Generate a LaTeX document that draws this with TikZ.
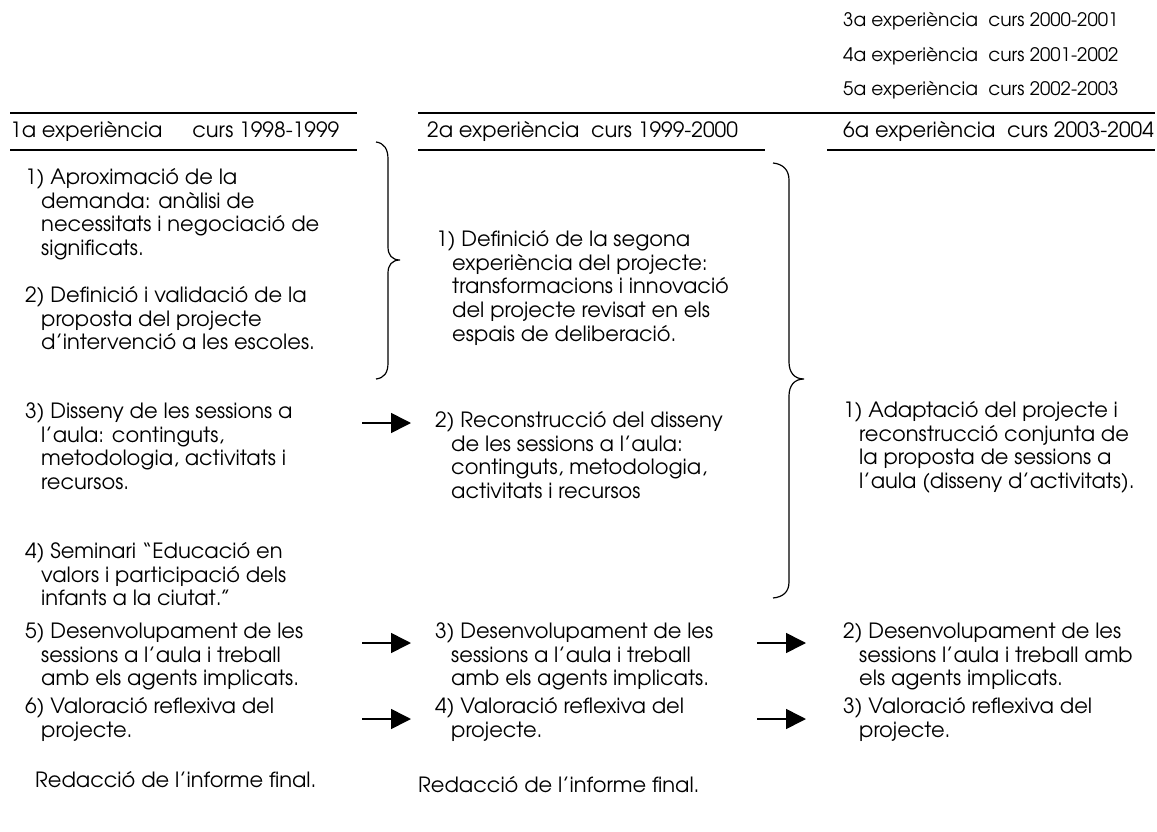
\documentclass[tikz,border=0pt]{standalone}
\usepackage{fontspec}
\setmainfont{TeX Gyre Adventor}
\usetikzlibrary{arrows.meta}
\newcommand\cind{\hspace*{16pt}}
\tikzset{
  txt/.style={anchor=north west, inner sep=0pt, align=left, font=\fontsize{21}{23.6}\selectfont},
  small/.style={anchor=north west, inner sep=0pt, font=\fontsize{18.6}{21}\selectfont},
  rule/.style={line width=1.6pt},
  arr/.style={line width=1.6pt, -{Triangle[length=20pt,width=20pt]}},
  brace/.style={line width=1.2pt}
}
\begin{document}
\begin{tikzpicture}[x=1pt,y=-1pt]
\useasboundingbox (0,0) rectangle (1157,832);
% top right
\node[small] (e3) at (843,12) {\strut 3a experiència\ \ curs 2000-2001};
\node[small] (e4) at (843,47) {\strut 4a experiència\ \ curs 2001-2002};
\node[small] (e5) at (843,81) {\strut 5a experiència\ \ curs 2002-2003};
% rules
\draw[rule] (10,113) -- (357,113);
\draw[rule] (10,150) -- (357,150);
\draw[rule] (418,113) -- (1155,113);
\draw[rule] (418,150) -- (765,150);
\draw[rule] (827,150) -- (1155,150);
% headers
\node[txt] (h1) at (10,121) {\strut 1a experiència\hspace{30pt}curs 1998-1999};
\node[txt] (h2) at (427,121) {\strut 2a experiència\ \ curs 1999-2000};
\node[txt] (h6) at (843,121) {\strut 6a experiència\ \ curs 2003-2004};
% column 1
\node[txt] (a1) at (25,168) {\strut 1) Aproximació de la\\\cind demanda: anàlisi de\\\cind necessitats i negociació de\\\cind significats.};
\node[txt] (a2) at (25,286) {\strut 2) Definició i validació de la\\\cind proposta del projecte\\\cind d’intervenció a les escoles.};
\node[txt] (a3) at (25,402) {\strut 3) Disseny de les sessions a\\\cind l’aula: continguts,\\\cind metodologia, activitats i\\\cind recursos.};
\node[txt] (a4) at (25,542) {\strut 4) Seminari “Educació en\\\cind valors i participació dels\\\cind infants a la ciutat.”};
\node[txt] (a5) at (25,622) {\strut 5) Desenvolupament de les\\\cind sessions a l’aula i treball\\\cind amb els agents implicats.};
\node[txt] (a6) at (25,697) {\strut 6) Valoració reflexiva del\\\cind projecte.};
\node[txt] (a7) at (35,771) {\strut Redacció de l’informe final.};
% column 2
\node[txt] (b1) at (436,230) {\strut 1) Definició de la segona\\\cind experiència del projecte:\\\cind transformacions i innovació\\\cind del projecte revisat en els\\\cind espais de deliberació.};
\node[txt] (b2) at (435,411) {\strut 2) Reconstrucció del disseny\\\cind de les sessions a l’aula:\\\cind continguts, metodologia,\\\cind activitats i recursos};
\node[txt] (b3) at (435,622) {\strut 3) Desenvolupament de les\\\cind sessions a l’aula i treball\\\cind amb els agents implicats.};
\node[txt] (b4) at (435,697) {\strut 4) Valoració reflexiva del\\\cind projecte.};
\node[txt] (b5) at (418,776) {\strut Redacció de l’informe final.};
% column 3
\node[txt] (c1) at (843,401) {\strut 1) Adaptació del projecte i\\\cind reconstrucció conjunta de\\\cind la proposta de sessions a\\\cind l’aula (disseny d’activitats).};
\node[txt] (c2) at (843,622) {\strut 2) Desenvolupament de les\\\cind sessions l’aula i treball amb\\\cind els agents implicats.};
\node[txt] (c3) at (843,697) {\strut 3) Valoració reflexiva del\\\cind projecte.};
% braces
\draw[brace] (376,142) .. controls (384,143) and (388,149) .. (388,159) -- (388,247)
  .. controls (388,255) and (392,260) .. (400,260)
  .. controls (392,260) and (388,265) .. (388,273) -- (388,363)
  .. controls (388,373) and (384,378) .. (376,379);
\draw[brace] (773,163) .. controls (783,164) and (789,170) .. (789,180) -- (789,362)
  .. controls (789,372) and (794,379) .. (804,379)
  .. controls (794,379) and (789,386) .. (789,396) -- (789,582)
  .. controls (789,592) and (783,597) .. (773,598);
% arrows
\coordinate (s1) at (362,423); \coordinate (t1) at (411,423);
\coordinate (s2) at (362,643); \coordinate (t2) at (411,643);
\coordinate (s3) at (362,719); \coordinate (t3) at (411,719);
\coordinate (s4) at (757,643); \coordinate (t4) at (806,643);
\coordinate (s5) at (757,719); \coordinate (t5) at (806,719);
\draw[arr] (s1) -- (t1);
\draw[arr] (s2) -- (t2);
\draw[arr] (s3) -- (t3);
\draw[arr] (s4) -- (t4);
\draw[arr] (s5) -- (t5);
\end{tikzpicture}
\end{document}
